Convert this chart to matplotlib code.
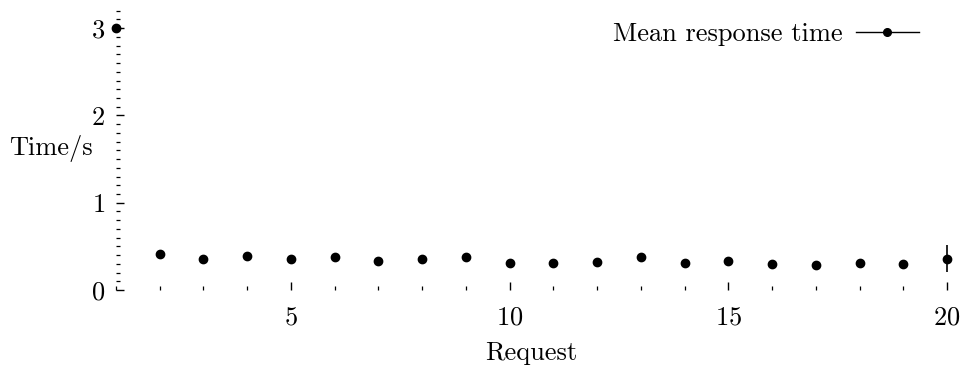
import matplotlib.pyplot as plt
import numpy as np
from matplotlib.ticker import MultipleLocator

plt.rcParams['font.family'] = ['cmr10', 'DejaVu Serif']
plt.rcParams['mathtext.fontset'] = 'cm'
plt.rcParams['axes.formatter.use_mathtext'] = True

# mean response time per request, with spread
requests = list(range(1, 21))
mean_time = [3.0, 0.41, 0.36, 0.39, 0.36, 0.38, 0.33, 0.36, 0.38, 0.31,
             0.31, 0.32, 0.38, 0.31, 0.33, 0.30, 0.29, 0.31, 0.30, 0.36]
err_time = [0.02, 0.02, 0.01, 0.01, 0.01, 0.01, 0.01, 0.01, 0.04, 0.01,
            0.01, 0.01, 0.01, 0.01, 0.01, 0.01, 0.01, 0.01, 0.01, 0.15]

fs = 19

fig = plt.figure(figsize=(9.68, 3.67), dpi=100)
ax = fig.add_axes([0.1198, 0.2098, 0.8585, 0.7657])

pts = ax.errorbar(requests, mean_time, yerr=err_time, fmt='o', color='black',
                  ms=6, elinewidth=1.2, capsize=0, linestyle='none')
for art in pts.lines[0:1] + tuple(pts.lines[2]):
    art.set_clip_on(False)

ax.set_xlim(1, 20)
ax.set_ylim(0, 3.22)
for s in ax.spines.values():
    s.set_visible(False)

ax.xaxis.set_major_locator(MultipleLocator(5))
ax.xaxis.set_minor_locator(MultipleLocator(1))
ax.yaxis.set_major_locator(MultipleLocator(1))
ax.yaxis.set_minor_locator(MultipleLocator(0.1))
ax.tick_params(which='both', direction='in', color='black', labelsize=fs)
ax.tick_params(which='major', length=6, width=1.0, pad=8)
ax.tick_params(axis='x', which='major', pad=11)
ax.tick_params(which='minor', length=3, width=0.9)

ax.set_xlabel('Request', fontsize=fs)
ax.xaxis.set_label_coords(0.5, -0.223)
ax.xaxis.label.set_va('center')
ax.set_ylabel('Time/s', fontsize=fs, rotation=0, ha='center', va='center')
ax.yaxis.set_label_coords(-0.078, 0.505)

h = plt.Line2D([], [], color='black', marker='o', ms=5.5, lw=1.0)
ax.legend([h], ['Mean response time'], loc='upper right', frameon=False,
          markerfirst=False, fontsize=fs, handlelength=2.4, handletextpad=0.5,
          bbox_to_anchor=(0.995, 1.038))

plt.savefig('out.png', dpi=100)
